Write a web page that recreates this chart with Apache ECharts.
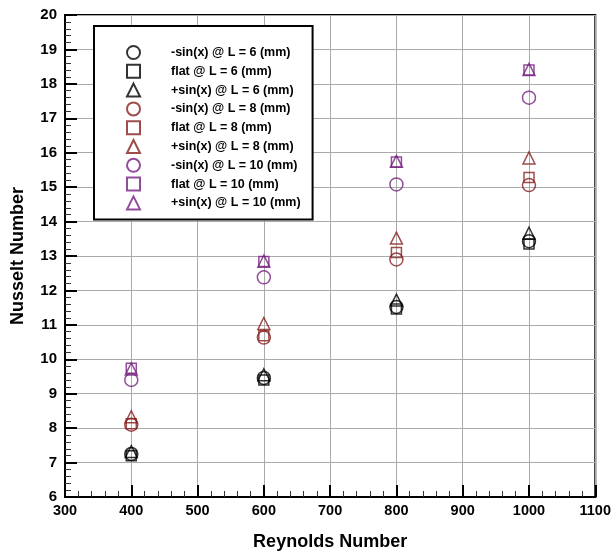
<!DOCTYPE html>
<html>
<head>
<meta charset="utf-8">
<script src="https://cdn.jsdelivr.net/npm/echarts@6/dist/echarts.min.js"></script>
<style>
  html, body { margin: 0; padding: 0; background: #fff; }
  #main { width: 614px; height: 556px; }
</style>
</head>
<body>
<div id="main"></div>
<script>
    // Reynolds number (x) for every series
    var reynolds = [400, 600, 800, 1000];

    // Nusselt number
    var negL6  = [7.25, 9.46, 11.52, 13.43];
    var flatL6 = [7.20, 9.40, 11.46, 13.35];
    var posL6  = [7.32, 9.55, 11.72, 13.66];
    var negL8  = [8.10, 10.63, 12.90, 15.06];
    var flatL8 = [8.13, 10.68, 13.10, 15.28];
    var posL8  = [8.33, 11.04, 13.52, 15.85];
    var negL10  = [9.40, 12.38, 15.08, 17.60];
    var flatL10 = [9.74, 12.84, 15.73, 18.40];
    var posL10  = [9.72, 12.85, 15.75, 18.42];

    var names = [
        '-sin(x) @ L = 6 (mm)', 'flat @ L = 6 (mm)', '+sin(x) @ L = 6 (mm)',
        '-sin(x) @ L = 8 (mm)', 'flat @ L = 8 (mm)', '+sin(x) @ L = 8 (mm)',
        '-sin(x) @ L = 10 (mm)', 'flat @ L = 10 (mm)', '+sin(x) @ L = 10 (mm)'
    ];
    var values = [negL6, flatL6, posL6, negL8, flatL8, posL8, negL10, flatL10, posL10];

    var colors = ['#000000', '#862020', '#76207f'];
    var shapes = ['circle', 'rect', 'triangle'];
    var sizes = [13, 10, 12];

    var series = [];
    for (var i = 0; i < names.length; i++) {
        var c = colors[Math.floor(i / 3)];
        var pts = [];
        for (var j = 0; j < reynolds.length; j++) {
            pts.push([reynolds[j], values[i][j]]);
        }
        series.push({
            name: names[i],
            type: 'scatter',
            symbol: shapes[i % 3],
            symbolSize: sizes[i % 3],
            itemStyle: {
                color: 'rgba(255,255,255,0)',
                borderColor: c,
                borderWidth: 1.5
            },
            data: pts
        });
    }

    var font = 'Liberation Sans, Arial, sans-serif';

    var myChart = echarts.init(document.getElementById('main'));
    myChart.setOption({
        animation: false,
        grid: {
            left: 65, right: 18, top: 15, bottom: 55,
            show: true,
            borderColor: '#000',
            borderWidth: 2
        },
        legend: {
            orient: 'vertical',
            left: 94,
            top: 26,
            padding: [19, 12, 9, 32],
            itemWidth: 13,
            itemHeight: 13,
            itemGap: 3.8,
            backgroundColor: '#fff',
            borderColor: '#000',
            borderWidth: 2,
            formatter: function (name) { return '{t|' + name + '}'; },
            textStyle: {
                fontFamily: font, fontWeight: 'bold', fontSize: 12.5, color: '#000',
                rich: { t: { fontFamily: font, fontWeight: 'bold', fontSize: 12.5, color: '#000', padding: [0, 0, 0, 26] } }
            },
            data: names
        },
        xAxis: {
            type: 'value',
            min: 300, max: 1100, interval: 100,
            name: 'Reynolds Number',
            nameLocation: 'middle',
            nameGap: 36,
            nameTextStyle: { fontFamily: font, fontWeight: 'bold', fontSize: 18, color: '#000' },
            axisLine: { lineStyle: { color: '#000', width: 2 } },
            axisTick: { inside: true, length: 12, lineStyle: { color: '#000', width: 2 } },
            minorTick: { show: true, splitNumber: 5, length: 6, lineStyle: { color: '#333', width: 1 } },
            axisLabel: {
                fontFamily: font, fontWeight: 'bold', fontSize: 14.5, color: '#000', margin: 6,
                formatter: function (v) { return String(v); }
            },
            splitLine: { show: true, lineStyle: { color: '#aaa', width: 1 } }
        },
        yAxis: {
            type: 'value',
            min: 6, max: 20, interval: 1,
            name: 'Nusselt Number',
            nameLocation: 'middle',
            nameGap: 38,
            nameTextStyle: { fontFamily: font, fontWeight: 'bold', fontSize: 18, color: '#000' },
            axisLine: { lineStyle: { color: '#000', width: 2 } },
            axisTick: { inside: true, length: 12, lineStyle: { color: '#000', width: 2 } },
            minorTick: { show: true, splitNumber: 5, length: 6, lineStyle: { color: '#333', width: 1 } },
            axisLabel: { fontFamily: font, fontWeight: 'bold', fontSize: 15, color: '#000', margin: 8 },
            splitLine: { show: true, lineStyle: { color: '#aaa', width: 1 } }
        },
        series: series
    });
</script>
</body>
</html>
